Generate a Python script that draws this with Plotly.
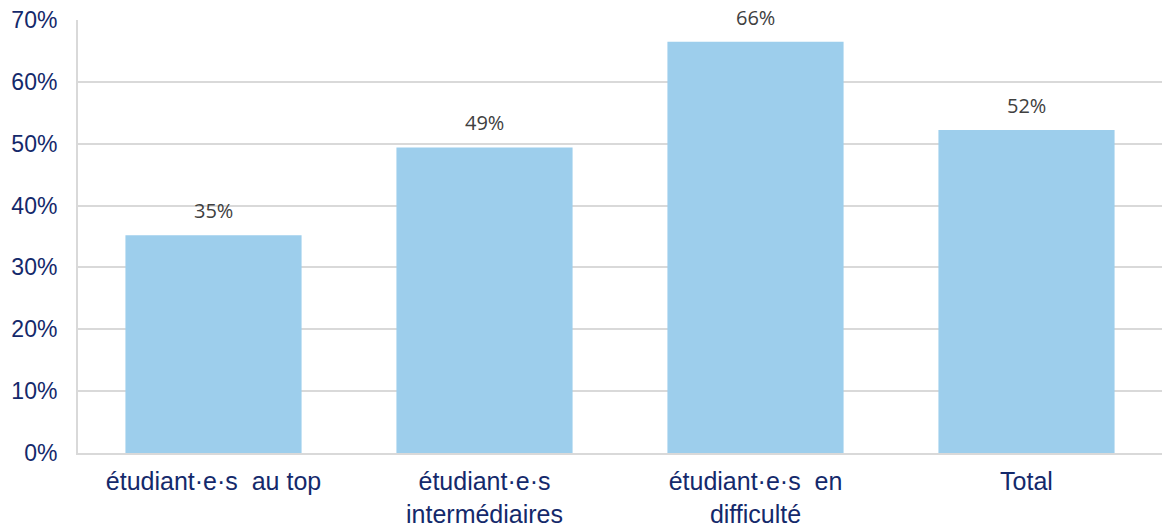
import plotly.graph_objects as go

categories = [
    "étudiant·e·s\u00a0 au top",
    "étudiant·e·s<br>intermédiaires",
    "étudiant·e·s\u00a0 en<br>difficulté",
    "Total",
]
values = [35.2, 49.4, 66.5, 52.2]
labels = [f"{round(v)}%" for v in values]

navy = "#14296B"
grid = "#D9D9D9"

fig = go.Figure()
fig.add_trace(
    go.Bar(
        x=categories,
        y=values,
        marker=dict(color="#9DCEEC", line=dict(width=0)),
        width=0.65,
        hoverinfo="skip",
        showlegend=False,
    )
)

# value labels sit a bit above each bar
for c, v, t in zip(categories, values, labels):
    fig.add_annotation(
        x=c, y=v, text=t, showarrow=False,
        yanchor="bottom", yshift=9,
        font=dict(family="Open Sans", size=20, color="#404040"),
    )

fig.update_layout(
    width=1162,
    height=531,
    autosize=False,
    margin=dict(l=78, r=0, t=20, b=78),
    paper_bgcolor="white",
    plot_bgcolor="white",
    font=dict(family="Liberation Sans, Arial", color=navy, size=23),
    xaxis=dict(
        automargin=False,
        showgrid=False,
        showline=True,
        linecolor=grid,
        linewidth=2,
        ticks="",
        tickfont=dict(size=25, color=navy),
        ticklabelstandoff=5,
    ),
    yaxis=dict(
        automargin=False,
        range=[0, 70],
        dtick=10,
        ticksuffix="%",
        showgrid=True,
        gridcolor=grid,
        gridwidth=1.5,
        showline=True,
        linecolor=grid,
        linewidth=2,
        zeroline=False,
        tickfont=dict(size=23, color=navy),
        ticklabelstandoff=14,
    ),
)

# drop the page margin so the figure fills the window exactly
fig.write_html(
    "out.html",
    config={"displayModeBar": False},
    post_script="document.body.style.margin='0';document.body.style.overflow='hidden';",
)
